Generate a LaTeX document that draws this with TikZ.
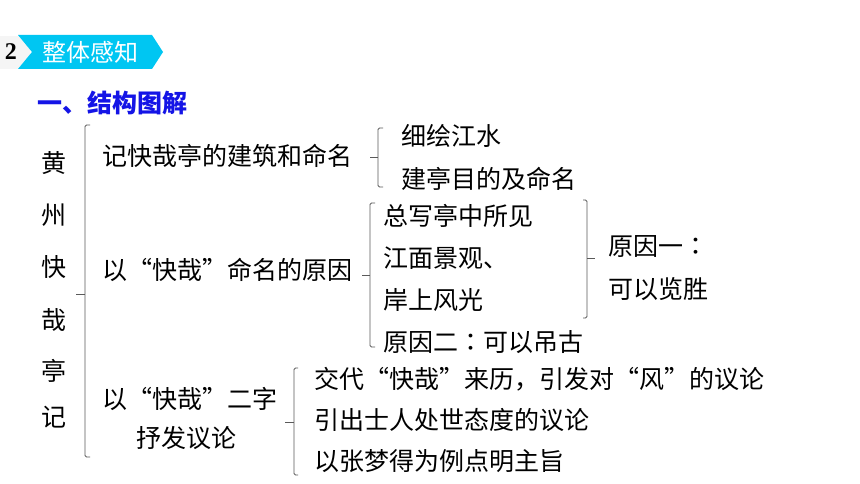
\documentclass[tikz,border=0pt]{standalone}
\usepackage{fontspec}
\setmainfont{Noto Sans CJK SC}
\newfontfamily\tcfont{Noto Sans CJK TC}
\newfontfamily\numfont{Liberation Serif}
\newcommand{\ccolon}{{\tcfont ：}}
\definecolor{bannercyan}{RGB}{0,198,242}
\definecolor{titleblue}{RGB}{20,20,230}
\definecolor{brk}{RGB}{90,90,90}
\tikzset{
  txt/.style={anchor=west, inner sep=0pt, text height=0.76em, text depth=0pt, yshift=-5.5pt, font=\fontsize{25}{25}\selectfont},
  vch/.style={anchor=center, inner sep=0pt, text height=0.76em, text depth=0pt, yshift=-5.5pt, font=\fontsize{25}{25}\selectfont},
  brkline/.style={draw=brk, line width=0.9pt, rounded corners=1.5pt}
}
\begin{document}
\begin{tikzpicture}[x=1pt,y=-1pt]
\useasboundingbox (0,0) rectangle (860,484);
\fill[white] (0,0) rectangle (860,484);
% header
\fill[gray!8] (0,36) rectangle (30,69);
\fill[bannercyan] (18,35) -- (152,35) -- (163,52) -- (152,69) -- (18,69) -- (32,52) -- cycle;
\node[anchor=center, inner sep=0pt, font=\numfont\bfseries\fontsize{24}{24}\selectfont] (num) at (11,52) {2};
\node[vch, font=\fontsize{24}{24}\selectfont, text=white] (banner) at (90,52) {整体感知};
\node[txt, font=\bfseries\fontsize{25}{25}\selectfont, text=titleblue] (sec) at (37,103) {一、结构图解};
% vertical title
\node[vch] (t1) at (54,163) {黄};
\node[vch] (t2) at (54,215) {州};
\node[vch] (t3) at (54,267) {快};
\node[vch] (t4) at (54,320) {哉};
\node[vch] (t5) at (54,371) {亭};
\node[vch] (t6) at (54,417) {记};
% level 2
\node[txt] (a) at (102,156) {记快哉亭的建筑和命名};
\node[txt] (b) at (102,270) {以“快哉”命名的原因};
\node[txt] (c1) at (102,399) {以“快哉”二字};
\node[txt] (c2) at (136,438) {抒发议论};
% level 3
\node[txt] (a1) at (401,136) {细绘江水};
\node[txt] (a2) at (401,179) {建亭目的及命名};
\node[txt] (b1) at (383,216) {总写亭中所见};
\node[txt] (b2) at (383,258) {江面景观、};
\node[txt] (b3) at (383,300) {岸上风光};
\node[txt] (b4) at (383,342) {原因二\ccolon 可以吊古};
\node[txt] (r1) at (608,246) {原因一\ccolon};
\node[txt] (r2) at (608,289) {可以览胜};
\node[txt] (c3) at (314,379) {交代“快哉”来历，引发对“风”的议论};
\node[txt] (c4) at (314,420) {引出士人处世态度的议论};
\node[txt] (c5) at (314,461) {以张梦得为例点明主旨};
% brackets
\draw[brkline] (90,125) -- (85,125) -- (85,457) -- (90,457);
\draw[brk, line width=0.9pt] (76,294) -- (85,294);
\draw[brkline] (383,128) -- (378,128) -- (378,187) -- (383,187);
\draw[brk, line width=0.9pt] (370,157) -- (378,157);
\draw[brkline] (375,203) -- (370,203) -- (370,347) -- (375,347);
\draw[brk, line width=0.9pt] (362,275) -- (370,275);
\draw[brkline] (583,200) -- (587,200) -- (587,318) -- (583,318);
\draw[brk, line width=0.9pt] (587,258) -- (595,258);
\draw[brkline] (298,368) -- (294,368) -- (294,475) -- (298,475);
\draw[brk, line width=0.9pt] (285,422) -- (294,422);
\end{tikzpicture}
\end{document}
